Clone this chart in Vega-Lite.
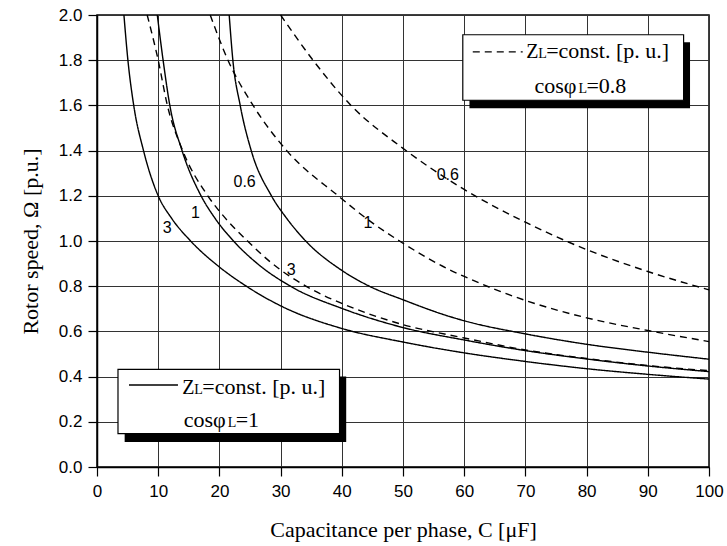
{
  "$schema": "https://vega.github.io/schema/vega-lite/v6.json",
  "width": 612,
  "height": 452,
  "autosize": {"type": "none"},
  "padding": {"left": 97, "top": 15, "right": 18, "bottom": 79},
  "background": "white",
  "config": {
    "view": {"stroke": "black", "strokeWidth": 1.5},
    "axis": {
      "domainColor": "black",
      "domainWidth": 1.5,
      "tickColor": "black",
      "tickWidth": 1.2,
      "gridColor": "#333333",
      "gridWidth": 1,
      "labelFont": "Liberation Sans",
      "labelFontSize": 17,
      "labelColor": "black",
      "titleFont": "Liberation Serif",
      "titleFontSize": 22,
      "titleFontWeight": "normal",
      "titleColor": "black"
    }
  },
  "datasets": {
    "curves": [
      {"C": 4.4, "W": 2.0, "curve": "s3", "type": "solid"},
      {"C": 5.05, "W": 1.8, "curve": "s3", "type": "solid"},
      {"C": 6.0, "W": 1.6, "curve": "s3", "type": "solid"},
      {"C": 7.6, "W": 1.4, "curve": "s3", "type": "solid"},
      {"C": 10.0, "W": 1.2, "curve": "s3", "type": "solid"},
      {"C": 12.2, "W": 1.1, "curve": "s3", "type": "solid"},
      {"C": 15.3, "W": 1.0, "curve": "s3", "type": "solid"},
      {"C": 20, "W": 0.885, "curve": "s3", "type": "solid"},
      {"C": 24.4, "W": 0.8, "curve": "s3", "type": "solid"},
      {"C": 30.4, "W": 0.708, "curve": "s3", "type": "solid"},
      {"C": 40, "W": 0.613, "curve": "s3", "type": "solid"},
      {"C": 50, "W": 0.553, "curve": "s3", "type": "solid"},
      {"C": 60, "W": 0.505, "curve": "s3", "type": "solid"},
      {"C": 70, "W": 0.467, "curve": "s3", "type": "solid"},
      {"C": 80, "W": 0.435, "curve": "s3", "type": "solid"},
      {"C": 90, "W": 0.41, "curve": "s3", "type": "solid"},
      {"C": 100, "W": 0.389, "curve": "s3", "type": "solid"},

      {"C": 9.85, "W": 2.0, "curve": "s1", "type": "solid"},
      {"C": 10.8, "W": 1.8, "curve": "s1", "type": "solid"},
      {"C": 11.9, "W": 1.6, "curve": "s1", "type": "solid"},
      {"C": 13.9, "W": 1.4, "curve": "s1", "type": "solid"},
      {"C": 17.0, "W": 1.2, "curve": "s1", "type": "solid"},
      {"C": 19.3, "W": 1.1, "curve": "s1", "type": "solid"},
      {"C": 22.3, "W": 1.0, "curve": "s1", "type": "solid"},
      {"C": 26.2, "W": 0.9, "curve": "s1", "type": "solid"},
      {"C": 31.6, "W": 0.8, "curve": "s1", "type": "solid"},
      {"C": 40.2, "W": 0.7, "curve": "s1", "type": "solid"},
      {"C": 50, "W": 0.617, "curve": "s1", "type": "solid"},
      {"C": 60, "W": 0.562, "curve": "s1", "type": "solid"},
      {"C": 70, "W": 0.515, "curve": "s1", "type": "solid"},
      {"C": 80, "W": 0.478, "curve": "s1", "type": "solid"},
      {"C": 90, "W": 0.447, "curve": "s1", "type": "solid"},
      {"C": 100, "W": 0.422, "curve": "s1", "type": "solid"},

      {"C": 21.6, "W": 2.0, "curve": "s06", "type": "solid"},
      {"C": 22.2, "W": 1.8, "curve": "s06", "type": "solid"},
      {"C": 23.4, "W": 1.6, "curve": "s06", "type": "solid"},
      {"C": 25.2, "W": 1.4, "curve": "s06", "type": "solid"},
      {"C": 28.5, "W": 1.2, "curve": "s06", "type": "solid"},
      {"C": 31.0, "W": 1.1, "curve": "s06", "type": "solid"},
      {"C": 34.1, "W": 1.0, "curve": "s06", "type": "solid"},
      {"C": 40, "W": 0.87, "curve": "s06", "type": "solid"},
      {"C": 44.5, "W": 0.8, "curve": "s06", "type": "solid"},
      {"C": 50, "W": 0.74, "curve": "s06", "type": "solid"},
      {"C": 57.6, "W": 0.666, "curve": "s06", "type": "solid"},
      {"C": 60, "W": 0.647, "curve": "s06", "type": "solid"},
      {"C": 70, "W": 0.589, "curve": "s06", "type": "solid"},
      {"C": 80, "W": 0.543, "curve": "s06", "type": "solid"},
      {"C": 90, "W": 0.508, "curve": "s06", "type": "solid"},
      {"C": 100, "W": 0.477, "curve": "s06", "type": "solid"},

      {"C": 8.2, "W": 2.0, "curve": "d3", "type": "dashed"},
      {"C": 10.0, "W": 1.8, "curve": "d3", "type": "dashed"},
      {"C": 11.5, "W": 1.6, "curve": "d3", "type": "dashed"},
      {"C": 14.0, "W": 1.4, "curve": "d3", "type": "dashed"},
      {"C": 18.1, "W": 1.2, "curve": "d3", "type": "dashed"},
      {"C": 21.0, "W": 1.1, "curve": "d3", "type": "dashed"},
      {"C": 24.6, "W": 1.0, "curve": "d3", "type": "dashed"},
      {"C": 28.2, "W": 0.91, "curve": "d3", "type": "dashed"},
      {"C": 35.2, "W": 0.784, "curve": "d3", "type": "dashed"},
      {"C": 40, "W": 0.724, "curve": "d3", "type": "dashed"},
      {"C": 50, "W": 0.63, "curve": "d3", "type": "dashed"},
      {"C": 60, "W": 0.571, "curve": "d3", "type": "dashed"},
      {"C": 70, "W": 0.518, "curve": "d3", "type": "dashed"},
      {"C": 80, "W": 0.48, "curve": "d3", "type": "dashed"},
      {"C": 90, "W": 0.449, "curve": "d3", "type": "dashed"},
      {"C": 100, "W": 0.426, "curve": "d3", "type": "dashed"},

      {"C": 18.5, "W": 2.0, "curve": "d1", "type": "dashed"},
      {"C": 21.4, "W": 1.8, "curve": "d1", "type": "dashed"},
      {"C": 25.5, "W": 1.6, "curve": "d1", "type": "dashed"},
      {"C": 31.0, "W": 1.4, "curve": "d1", "type": "dashed"},
      {"C": 39.4, "W": 1.2, "curve": "d1", "type": "dashed"},
      {"C": 44.5, "W": 1.09, "curve": "d1", "type": "dashed"},
      {"C": 50, "W": 0.99, "curve": "d1", "type": "dashed"},
      {"C": 57.6, "W": 0.873, "curve": "d1", "type": "dashed"},
      {"C": 60, "W": 0.843, "curve": "d1", "type": "dashed"},
      {"C": 70, "W": 0.737, "curve": "d1", "type": "dashed"},
      {"C": 80, "W": 0.66, "curve": "d1", "type": "dashed"},
      {"C": 90, "W": 0.604, "curve": "d1", "type": "dashed"},
      {"C": 100, "W": 0.555, "curve": "d1", "type": "dashed"},

      {"C": 30.0, "W": 2.0, "curve": "d06", "type": "dashed"},
      {"C": 35.3, "W": 1.8, "curve": "d06", "type": "dashed"},
      {"C": 41.5, "W": 1.6, "curve": "d06", "type": "dashed"},
      {"C": 50, "W": 1.41, "curve": "d06", "type": "dashed"},
      {"C": 60, "W": 1.228, "curve": "d06", "type": "dashed"},
      {"C": 70, "W": 1.083, "curve": "d06", "type": "dashed"},
      {"C": 80, "W": 0.962, "curve": "d06", "type": "dashed"},
      {"C": 90, "W": 0.865, "curve": "d06", "type": "dashed"},
      {"C": 100, "W": 0.784, "curve": "d06", "type": "dashed"}
    ],
    "labels": [
      {"C": 11.49, "W": 1.058, "text": "3"},
      {"C": 16.07, "W": 1.124, "text": "1"},
      {"C": 24.12, "W": 1.26, "text": "0.6"},
      {"C": 31.74, "W": 0.873, "text": "3"},
      {"C": 44.26, "W": 1.08, "text": "1"},
      {"C": 57.32, "W": 1.294, "text": "0.6"}
    ]
  },
  "layer": [
    {
      "data": {"name": "curves"},
      "mark": {"type": "line", "interpolate": "monotone", "strokeWidth": 1.4, "color": "black"},
      "encoding": {
        "x": {
          "field": "C", "type": "quantitative",
          "scale": {"domain": [0, 100], "nice": false, "zero": false},
          "axis": {
            "title": "Capacitance per phase, C [μF]",
            "values": [0,5,10,15,20,25,30,35,40,45,50,55,60,65,70,75,80,85,90,95,100],
            "format": "d",
            "labelExpr": "datum.value % 10 === 0 ? datum.label : ''",
            "tickSize": {"condition": {"test": "datum.value % 10 === 0", "value": 9}, "value": 5},
            "gridOpacity": {"condition": {"test": "datum.value % 10 === 0", "value": 1}, "value": 0},
            "labelPadding": 7,
            "labelFlush": false,
            "labelOverlap": false,
            "titlePadding": 20
          }
        },
        "y": {
          "field": "W", "type": "quantitative",
          "scale": {"domain": [0, 2], "nice": false},
          "axis": {
            "title": "Rotor speed, Ω [p.u.]",
            "values": [0,0.1,0.2,0.3,0.4,0.5,0.6,0.7,0.8,0.9,1.0,1.1,1.2,1.3,1.4,1.5,1.6,1.7,1.8,1.9,2.0],
            "format": ".1f",
            "labelExpr": "round(datum.value*10) % 2 === 0 ? datum.label : ''",
            "tickSize": {"condition": {"test": "round(datum.value*10) % 2 === 0", "value": 9}, "value": 5},
            "gridOpacity": {"condition": {"test": "round(datum.value*10) % 2 === 0", "value": 1}, "value": 0},
            "labelPadding": 6,
            "labelFlush": false,
            "labelOverlap": false,
            "titlePadding": 16
          }
        },
        "detail": {"field": "curve"},
        "strokeDash": {
          "field": "type", "type": "nominal",
          "scale": {"domain": ["solid", "dashed"], "range": [[1, 0], [7, 5]]},
          "legend": null
        }
      }
    },
    {
      "data": {"name": "labels"},
      "mark": {"type": "text", "font": "Liberation Sans", "fontSize": 16, "color": "black", "align": "center", "baseline": "middle"},
      "encoding": {
        "x": {"field": "C", "type": "quantitative"},
        "y": {"field": "W", "type": "quantitative"},
        "text": {"field": "text"}
      }
    },
    {
      "data": {"values": [{}]},
      "mark": {"type": "rect", "color": "black"},
      "encoding": {
        "x": {"datum": 60.86, "type": "quantitative"}, "x2": {"datum": 96.9},
        "y": {"datum": 1.879, "type": "quantitative"}, "y2": {"datum": 1.587}
      }
    },
    {
      "data": {"values": [{}]},
      "mark": {"type": "rect", "fill": "white", "stroke": "black", "strokeWidth": 1.2},
      "encoding": {
        "x": {"datum": 59.77, "type": "quantitative"}, "x2": {"datum": 95.85},
        "y": {"datum": 1.9126, "type": "quantitative"}, "y2": {"datum": 1.6228}
      }
    },
    {
      "data": {"values": [{}]},
      "mark": {"type": "rule", "color": "black", "strokeWidth": 1.4, "strokeDash": [7, 5]},
      "encoding": {
        "x": {"datum": 61.4, "type": "quantitative"}, "x2": {"datum": 69.56},
        "y": {"datum": 1.837, "type": "quantitative"}
      }
    },
    {
      "data": {"values": [{}]},
      "mark": {"type": "text", "text": "Z", "font": "Liberation Serif", "fontSize": 20, "color": "black", "align": "left", "baseline": "alphabetic"},
      "encoding": {"x": {"datum": 70.12, "type": "quantitative"}, "y": {"datum": 1.808, "type": "quantitative"}}
    },
    {
      "data": {"values": [{}]},
      "mark": {"type": "text", "text": "L", "font": "Liberation Serif", "fontSize": 14, "color": "black", "align": "left", "baseline": "alphabetic", "dx": 12},
      "encoding": {"x": {"datum": 70.12, "type": "quantitative"}, "y": {"datum": 1.808, "type": "quantitative"}}
    },
    {
      "data": {"values": [{}]},
      "mark": {"type": "text", "text": "=const. [p. u.]", "font": "Liberation Serif", "fontSize": 22, "color": "black", "align": "left", "baseline": "alphabetic", "dx": 20},
      "encoding": {"x": {"datum": 70.12, "type": "quantitative"}, "y": {"datum": 1.808, "type": "quantitative"}}
    },
    {
      "data": {"values": [{}]},
      "mark": {"type": "text", "text": "cosφ", "font": "Liberation Serif", "fontSize": 22, "color": "black", "align": "left", "baseline": "alphabetic"},
      "encoding": {"x": {"datum": 71.47, "type": "quantitative"}, "y": {"datum": 1.657, "type": "quantitative"}}
    },
    {
      "data": {"values": [{}]},
      "mark": {"type": "text", "text": "L", "font": "Liberation Serif", "fontSize": 14, "color": "black", "align": "left", "baseline": "alphabetic", "dx": 44},
      "encoding": {"x": {"datum": 71.47, "type": "quantitative"}, "y": {"datum": 1.657, "type": "quantitative"}}
    },
    {
      "data": {"values": [{}]},
      "mark": {"type": "text", "text": "=0.8", "font": "Liberation Serif", "fontSize": 22, "color": "black", "align": "left", "baseline": "alphabetic", "dx": 52},
      "encoding": {"x": {"datum": 71.47, "type": "quantitative"}, "y": {"datum": 1.657, "type": "quantitative"}}
    },
    {
      "data": {"values": [{}]},
      "mark": {"type": "rect", "color": "black"},
      "encoding": {
        "x": {"datum": 4.52, "type": "quantitative"}, "x2": {"datum": 40.72},
        "y": {"datum": 0.4, "type": "quantitative"}, "y2": {"datum": 0.111}
      }
    },
    {
      "data": {"values": [{}]},
      "mark": {"type": "rect", "fill": "white", "stroke": "black", "strokeWidth": 1.2},
      "encoding": {
        "x": {"datum": 3.43, "type": "quantitative"}, "x2": {"datum": 39.63},
        "y": {"datum": 0.4317, "type": "quantitative"}, "y2": {"datum": 0.1477}
      }
    },
    {
      "data": {"values": [{}]},
      "mark": {"type": "rule", "color": "black", "strokeWidth": 1.4},
      "encoding": {
        "x": {"datum": 5.23, "type": "quantitative"}, "x2": {"datum": 13.23},
        "y": {"datum": 0.3626, "type": "quantitative"}
      }
    },
    {
      "data": {"values": [{}]},
      "mark": {"type": "text", "text": "Z", "font": "Liberation Serif", "fontSize": 20, "color": "black", "align": "left", "baseline": "alphabetic"},
      "encoding": {"x": {"datum": 13.94, "type": "quantitative"}, "y": {"datum": 0.3213, "type": "quantitative"}}
    },
    {
      "data": {"values": [{}]},
      "mark": {"type": "text", "text": "L", "font": "Liberation Serif", "fontSize": 14, "color": "black", "align": "left", "baseline": "alphabetic", "dx": 12},
      "encoding": {"x": {"datum": 13.94, "type": "quantitative"}, "y": {"datum": 0.3213, "type": "quantitative"}}
    },
    {
      "data": {"values": [{}]},
      "mark": {"type": "text", "text": "=const. [p. u.]", "font": "Liberation Serif", "fontSize": 22, "color": "black", "align": "left", "baseline": "alphabetic", "dx": 20},
      "encoding": {"x": {"datum": 13.94, "type": "quantitative"}, "y": {"datum": 0.3213, "type": "quantitative"}}
    },
    {
      "data": {"values": [{}]},
      "mark": {"type": "text", "text": "cosφ", "font": "Liberation Serif", "fontSize": 22, "color": "black", "align": "left", "baseline": "alphabetic"},
      "encoding": {"x": {"datum": 14.16, "type": "quantitative"}, "y": {"datum": 0.1775, "type": "quantitative"}}
    },
    {
      "data": {"values": [{}]},
      "mark": {"type": "text", "text": "L", "font": "Liberation Serif", "fontSize": 14, "color": "black", "align": "left", "baseline": "alphabetic", "dx": 44},
      "encoding": {"x": {"datum": 14.16, "type": "quantitative"}, "y": {"datum": 0.1775, "type": "quantitative"}}
    },
    {
      "data": {"values": [{}]},
      "mark": {"type": "text", "text": "=1", "font": "Liberation Serif", "fontSize": 22, "color": "black", "align": "left", "baseline": "alphabetic", "dx": 52},
      "encoding": {"x": {"datum": 14.16, "type": "quantitative"}, "y": {"datum": 0.1775, "type": "quantitative"}}
    }
  ]
}
